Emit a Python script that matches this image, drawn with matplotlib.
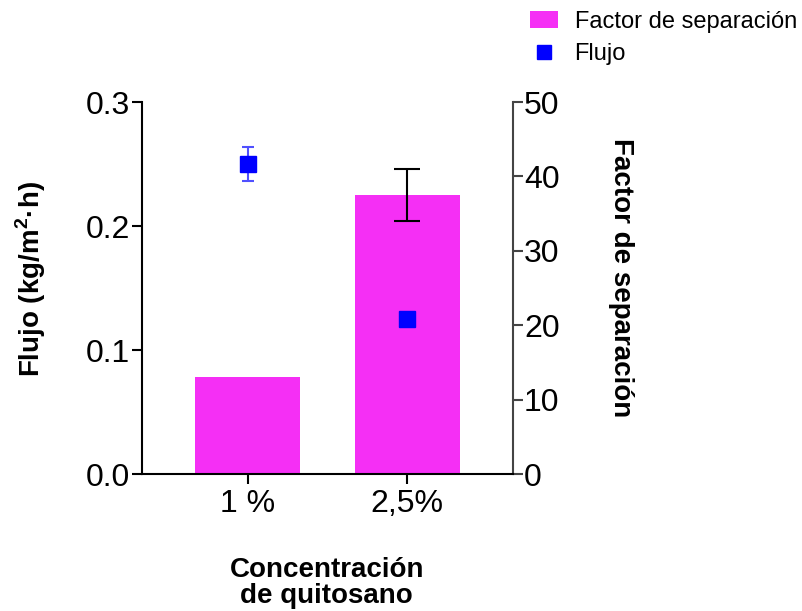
import matplotlib
matplotlib.use("Agg")
import matplotlib.pyplot as plt
from matplotlib.patches import Patch
from matplotlib.lines import Line2D

plt.rcParams['font.family'] = ['Liberation Sans', 'DejaVu Sans']
plt.rcParams['mathtext.fontset'] = 'custom'
plt.rcParams['mathtext.rm'] = 'Liberation Sans'
plt.rcParams['mathtext.bf'] = 'Liberation Sans:bold'

categories = ['1 %', '2,5%']
factor_sep = [13.0, 37.5]
factor_err = [0.0, 3.5]
flujo = [0.25, 0.125]
flujo_err = [0.014, 0.002]
xlabel_lines = ['Concentración', 'de quitosano']

bar_color = '#F52FF5'
pt_color = '#0000FF'

W, H = 803, 611
fig = plt.figure(figsize=(W / 100, H / 100), dpi=100)
ax = fig.add_axes([141.5 / W, 1 - 474 / H, (513 - 141.5) / W, (474 - 102) / H])
ax2 = ax.twinx()

x = list(range(len(categories)))
ax2.bar(x, factor_sep, width=0.66, color=bar_color, zorder=1)
ax2.errorbar(x[1:], factor_sep[1:], yerr=factor_err[1:], fmt='none', ecolor='black',
             elinewidth=1.5, capsize=9.6, capthick=1.5, zorder=2)
ax2.set_ylim(0, 50)
ax2.set_yticks([0, 10, 20, 30, 40, 50])

ax.set_zorder(ax2.get_zorder() + 1)
ax.patch.set_visible(False)
ax.errorbar(x, flujo, yerr=flujo_err, fmt='s', color=pt_color, ecolor='#5050FF',
            markersize=11.3, elinewidth=1.5, capsize=4.3, capthick=1.5, zorder=3)
ax.set_ylim(0, 0.3)
ax.set_yticks([0.0, 0.1, 0.2, 0.3])
ax.set_xlim(-0.665, 1.662)
ax.set_xticks(x)
ax.set_xticklabels(categories)

for a in (ax, ax2):
    a.spines['top'].set_visible(False)
    for s in a.spines.values():
        s.set_linewidth(1.5)
    a.tick_params(axis='both', which='major', labelsize=23, width=1.5, length=7.5,
                  direction='out', pad=0.5)
ax.tick_params(axis='x', pad=3)
ax.spines['right'].set_visible(False)
ax2.spines['left'].set_visible(False)
ax2.spines['bottom'].set_visible(False)
ax2.spines['right'].set_color('#444444')
ax2.tick_params(axis='y', color='#444444')
ax.set_yticklabels(['0.0', '0.1', '0.2', '0.3'])

fig.text(31 / W, 1 - 279 / H, 'Flujo (kg/m$^{\\mathbf{2}}$·h)', fontsize=20, fontweight='bold',
         rotation=90, ha='center', va='center')
fig.text(621 / W, 1 - 277.5 / H, 'Factor de separación', fontsize=20, fontweight='bold',
         rotation=-90, ha='center', va='center')
for line, base in zip(xlabel_lines, [577, 603]):
    fig.text(326.7 / W, 1 - base / H, line, fontsize=20, fontweight='bold',
             ha='center', va='baseline')

handles = [Patch(facecolor=bar_color, edgecolor='none', label='Factor de separación'),
           Line2D([], [], marker='s', linestyle='none', color=pt_color, markersize=10, label='Flujo')]
fig.legend(handles=handles, loc='upper right', bbox_to_anchor=(1.01, 1.006), frameon=False,
           fontsize=17, handlelength=1.2, handleheight=0.7, handletextpad=0.7, labelspacing=0.45,
           borderaxespad=0.2)

fig.savefig('out.png', dpi=100)
